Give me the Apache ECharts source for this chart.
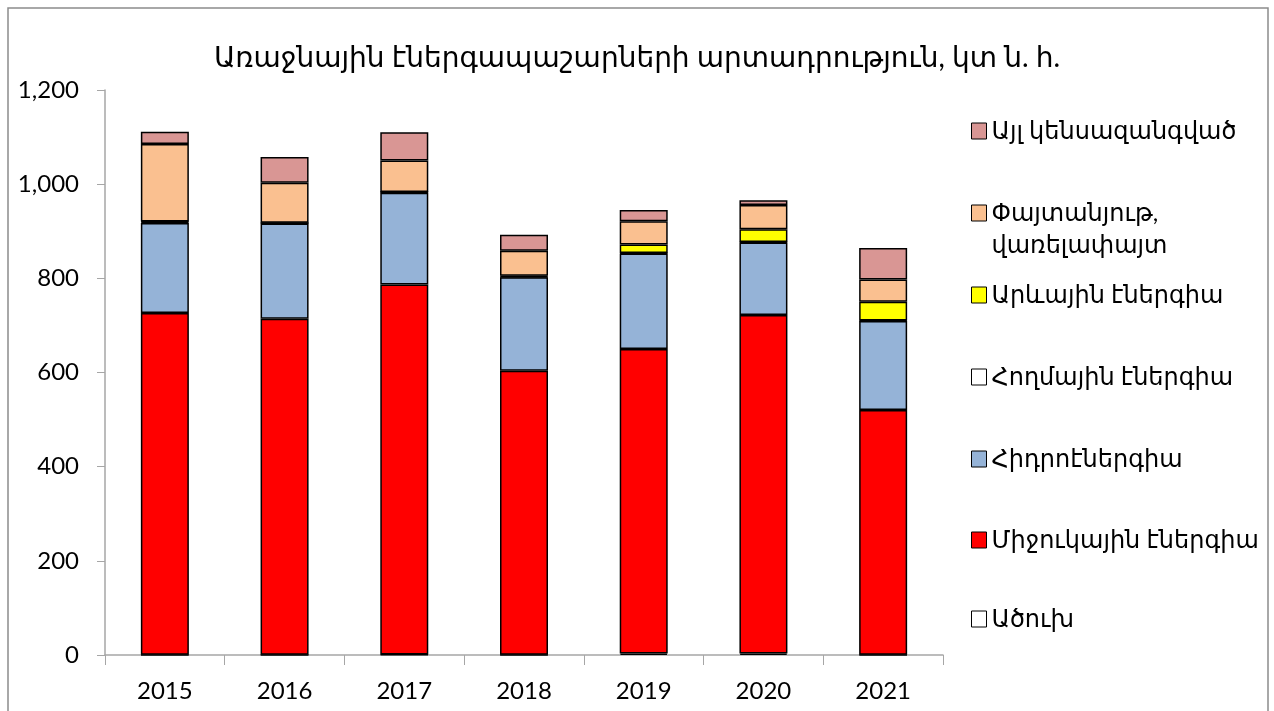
<!DOCTYPE html>
<html>
<head>
<meta charset="utf-8">
<script src="https://cdn.jsdelivr.net/npm/echarts@6/dist/echarts.min.js"></script>
<style>
  html, body { margin: 0; padding: 0; background: #fff; }
  #chart { width: 1274px; height: 711px; }
</style>
</head>
<body>
<div id="chart"></div>
<script>
// years and values, kt n.e.
var years = ['2015', '2016', '2017', '2018', '2019', '2020', '2021'];
var coal    = [0.5, 0.3, 1, 0.5, 3, 3, 0.5];
var nuclear = [726, 714, 786, 603, 647, 719, 520];
var hydro   = [191, 202, 195, 199, 203, 154, 189];
var wind    = [2, 1, 1, 1, 1, 1, 1];
var solar   = [1, 0.5, 0.5, 2, 18, 27, 40];
var wood    = [165, 85, 67, 53, 49, 52, 47];
var other   = [26, 55, 60, 34, 24, 10, 67];

var names = ['Ածուխ', 'Միջուկային էներգիա', 'Հիդրոէներգիա', 'Հողմային էներգիա',
             'Արևային էներգիա', 'Փայտանյութ, վառելափայտ', 'Այլ կենսազանգված'];
var colors = ['#FFFFFF', '#FF0000', '#95B3D7', '#FFFFFF', '#FFFF00', '#FAC090', '#D99694'];
var values = [coal, nuclear, hydro, wind, solar, wood, other];

var font = 'Lato, "DejaVu Sans", sans-serif';
var chart = echarts.init(document.getElementById('chart'));

var series = names.map(function (n, i) {
    return {
        name: n,
        type: 'bar',
        stack: 'total',
        barWidth: 48,
        data: values[i],
        itemStyle: { color: colors[i], borderColor: '#000', borderWidth: 1.5 }
    };
});

// legend: one block per item, listed top to bottom in reverse order
var legendCenters = [131, 213, 295, 377, 459, 540, 619];
var LH = 32;
var legends = names.slice().reverse().map(function (n, k) {
    var twoLines = n.indexOf(',') > 0;
    return {
        data: [n],
        orient: 'vertical',
        left: 971,
        top: twoLines ? legendCenters[k] - 1.5 * LH : legendCenters[k] - LH / 2,
        padding: 0,
        itemWidth: 15,
        itemHeight: 16,
        itemGap: 0,
        icon: 'rect',
        selectedMode: false,
        // wrapped name: empty first line keeps the icon beside the first text line
        formatter: function (name) {
            return name.indexOf(', ') > 0 ? '\n' + name.replace(', ', ',\n') : name;
        },
        itemStyle: { borderColor: '#000', borderWidth: 1 },
        textStyle: { fontFamily: font, fontSize: 24, color: '#000', lineHeight: LH }
    };
});

var option = {
    animation: false,
    backgroundColor: '#fff',
    title: {
        text: 'Առաջնային էներգապաշարների արտադրություն, կտ ն. հ.',
        left: 'center',
        top: 39,
        textStyle: { fontFamily: font, fontSize: 28, fontWeight: 'normal', color: '#000' }
    },
    graphic: [{
        type: 'rect',
        shape: { x: 8, y: 8, width: 1260, height: 720 },
        style: { fill: null, stroke: '#8c8c8c', lineWidth: 1.5 },
        silent: true
    }],
    legend: legends,
    grid: { left: 105, right: 331, top: 90, bottom: 56 },
    xAxis: {
        type: 'category',
        data: years,
        axisLine: { lineStyle: { color: '#a6a6a6', width: 1.5 } },
        axisTick: { show: true, length: 10, lineStyle: { color: '#a6a6a6' } },
        axisLabel: { fontFamily: font, fontSize: 24, color: '#000', margin: 24 }
    },
    yAxis: {
        type: 'value',
        min: 0,
        max: 1200,
        interval: 200,
        splitLine: { show: false },
        axisLine: { show: true, lineStyle: { color: '#a6a6a6', width: 1.5 } },
        axisTick: { show: true, length: 8, lineStyle: { color: '#a6a6a6' } },
        axisLabel: {
            fontFamily: font, fontSize: 24, color: '#000', margin: 26,
            formatter: function (v) { return v.toLocaleString('en-US'); }
        }
    },
    series: series
};
option && chart.setOption(option);
</script>
</body>
</html>
